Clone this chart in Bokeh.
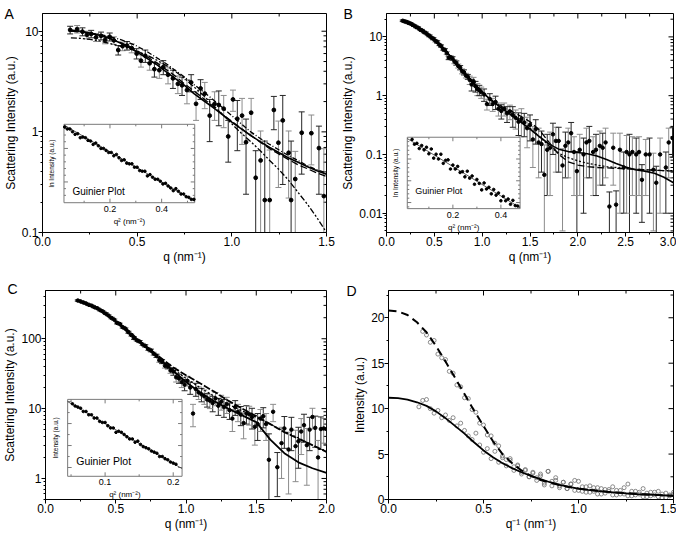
import math
import numpy as np
from bokeh.plotting import figure
from bokeh.layouts import column, row
from bokeh.models import (Range1d, LinearScale, LinearAxis, LogAxis, FixedTicker,
                          Title, NumeralTickFormatter, CustomJSTickFormatter)
from bokeh.core.properties import value
from bokeh.embed import file_html
from bokeh.resources import INLINE

FONT = "Liberation Sans"

# ---------------- Panel A data ----------------
A_POINTS = [  # (q, intensity, error)
    (0.146, 10.3, 0.9), (0.183, 10.5, 0.9), (0.211, 9.9, 0.9), (0.235, 9.2, 0.8),
    (0.257, 9.4, 0.8), (0.283, 8.7, 0.8), (0.309, 9.0, 0.8), (0.331, 8.2, 0.7),
    (0.355, 8.8, 0.8), (0.377, 8.1, 0.7), (0.400, 6.5, 0.7), (0.423, 7.1, 0.7),
    (0.446, 7.2, 0.7), (0.471, 6.8, 0.7), (0.497, 6.0, 0.7), (0.520, 5.1, 0.7),
    (0.543, 5.7, 0.8), (0.566, 4.8, 0.7), (0.591, 4.2, 0.7), (0.617, 4.1, 0.7),
    (0.638, 4.4, 0.7), (0.663, 3.7, 0.7), (0.689, 3.4, 0.7), (0.715, 3.0, 0.6),
    (0.737, 2.9, 0.6), (0.763, 2.6, 0.7), (0.785, 3.1, 0.6), (0.811, 1.9, 0.6),
    (0.835, 2.7, 0.6), (0.857, 2.4, 0.7), (0.883, 1.45, 0.65), (0.909, 1.9, 0.6),
    (0.931, 1.85, 0.7), (0.957, 1.7, 0.6), (0.981, 0.9, 0.4), (1.006, 2.1, 0.5),
    (1.029, 1.35, 0.7), (1.054, 1.45, 0.7), (1.075, 0.79, 0.55), (1.102, 1.55, 0.6),
    (1.126, 0.35, 0.3), (1.152, 0.52, 0.5), (1.174, 0.21, 0.6), (1.200, 0.21, 0.45),
    (1.222, 1.65, 0.6), (1.246, 0.78, 0.5), (1.269, 1.3, 1.0), (1.300, 0.62, 0.4),
    (1.313, 0.21, 0.6), (1.335, 0.34, 0.3), (1.369, 0.98, 0.6), (1.420, 0.97, 0.5),
    (1.460, 0.69, 0.45), (1.486, 0.23, 0.45),
]
A_CURVE_Q = [0.15, 0.2, 0.25, 0.3, 0.35, 0.4, 0.45, 0.5, 0.55, 0.6, 0.65, 0.7, 0.75,
             0.8, 0.85, 0.9, 0.95, 1.0, 1.05, 1.1, 1.15, 1.2, 1.25, 1.3, 1.35, 1.4,
             1.45, 1.5]
A_SOLID = [10.3, 10.0, 9.6, 9.1, 8.5, 7.8, 7.0, 6.2, 5.4, 4.7, 4.0, 3.4, 2.9, 2.4,
           2.05, 1.75, 1.48, 1.25, 1.07, 0.92, 0.8, 0.7, 0.62, 0.55, 0.5, 0.45, 0.41, 0.38]
A_DASHED = [10.0, 9.8, 9.5, 9.1, 8.6, 7.9, 7.2, 6.4, 5.6, 4.9, 4.2, 3.6, 3.0, 2.55,
            2.15, 1.8, 1.5, 1.27, 1.08, 0.92, 0.79, 0.68, 0.6, 0.53, 0.47, 0.43, 0.39, 0.36]
A_DASHDOT = [8.6, 8.5, 8.3, 8.0, 7.6, 7.2, 6.8, 6.3, 5.8, 5.2, 4.6, 4.0, 3.4, 2.8,
             2.3, 1.85, 1.5, 1.2, 0.97, 0.8, 0.65, 0.52, 0.42, 0.33, 0.25, 0.19, 0.14, 0.1]
A_DOTDASH = [10.1, 9.9, 9.6, 9.3, 8.9, 8.4, 7.8, 7.1, 6.3, 5.5, 4.8, 4.1, 3.5, 2.95,
             2.5, 2.1, 1.75, 1.45, 1.2, 1.0, 0.86, 0.75, 0.66, 0.58, 0.52, 0.46, 0.42, 0.39]
A_GUINIER = [  # (q^2, ln I)
    (0.025, 2.32), (0.035, 2.29), (0.045, 2.29), (0.055, 2.25), (0.065, 2.21),
    (0.075, 2.22), (0.085, 2.16), (0.095, 2.17), (0.105, 2.16), (0.115, 2.12),
    (0.125, 2.11), (0.135, 2.06), (0.145, 2.08), (0.155, 2.04), (0.165, 2.00),
    (0.175, 2.00), (0.185, 1.97), (0.195, 1.94), (0.205, 1.94), (0.215, 1.89),
    (0.225, 1.91), (0.235, 1.86), (0.245, 1.82), (0.255, 1.83), (0.265, 1.78),
    (0.275, 1.77), (0.285, 1.77), (0.295, 1.72), (0.305, 1.72), (0.315, 1.67),
    (0.325, 1.66), (0.335, 1.66), (0.345, 1.59), (0.355, 1.61), (0.365, 1.57),
    (0.375, 1.54), (0.385, 1.54), (0.395, 1.51), (0.405, 1.47), (0.415, 1.48),
    (0.425, 1.44), (0.435, 1.41), (0.445, 1.37), (0.455, 1.40), (0.465, 1.36),
    (0.475, 1.32), (0.485, 1.32), (0.495, 1.28), (0.505, 1.27), (0.515, 1.24),
    (0.525, 1.24),
]
A_GFIT_Q2 = [0.022, 0.528]
A_GFIT_LN = [2.35, 1.21]

# ---------------- Panel B data ----------------
B_POINTS = [
    (0.17, 18.8, 0.6), (0.19, 18.3, 0.6), (0.21, 18.0, 0.6), (0.23, 17.3, 0.6),
    (0.25, 16.9, 0.6), (0.27, 16.1, 0.5), (0.29, 15.5, 0.5), (0.31, 14.7, 0.5),
    (0.33, 14.3, 0.5), (0.35, 13.4, 0.5), (0.37, 12.9, 0.5), (0.39, 12.1, 0.4),
    (0.41, 11.7, 0.4), (0.43, 10.9, 0.4), (0.45, 10.4, 0.4), (0.47, 9.7, 0.4),
    (0.49, 9.3, 0.4), (0.51, 8.6, 0.4), (0.53, 8.2, 0.4), (0.55, 7.4, 0.3),
    (0.57, 7.0, 0.3), (0.59, 6.2, 0.3), (0.61, 6.0, 0.3), (0.63, 5.3, 0.3),
    (0.65, 4.4, 0.3), (0.67, 4.5, 0.3), (0.69, 4.3, 0.3), (0.71, 3.8, 0.3),
    (0.73, 3.6, 0.3), (0.75, 3.2, 0.25), (0.77, 3.0, 0.25), (0.79, 2.6, 0.25),
    (0.81, 2.5, 0.25), (0.83, 2.2, 0.2), (0.85, 2.1, 0.2), (0.87, 1.85, 0.3),
    (0.89, 1.55, 0.35), (0.91, 1.75, 0.3), (0.93, 1.45, 0.3), (0.95, 1.3, 0.3),
    (0.97, 1.25, 0.25), (0.99, 1.15, 0.25), (1.02, 1.05, 0.25), (1.05, 0.72, 0.15),
    (1.08, 0.88, 0.2), (1.11, 0.72, 0.18), (1.14, 0.78, 0.2), (1.17, 0.6, 0.15),
    (1.20, 0.55, 0.15), (1.23, 0.6, 0.15), (1.26, 0.5, 0.15), (1.29, 0.54, 0.15),
    (1.32, 0.47, 0.18), (1.35, 0.42, 0.15), (1.38, 0.36, 0.15), (1.41, 0.4, 0.2),
    (1.44, 0.35, 0.15), (1.47, 0.28, 0.15), (1.50, 0.32, 0.15), (1.53, 0.18, 0.12),
    (1.56, 0.27, 0.12), (1.59, 0.16, 0.12), (1.62, 0.15, 0.1), (1.65, 0.045, 0.1),
    (1.68, 0.12, 0.1), (1.71, 0.13, 0.11), (1.74, 0.22, 0.12), (1.77, 0.17, 0.12),
    (1.80, 0.17, 0.12), (1.84, 0.065, 0.06), (1.87, 0.14, 0.1), (1.90, 0.16, 0.12),
    (1.93, 0.23, 0.12), (1.96, 0.11, 0.09), (1.99, 0.052, 0.06), (2.02, 0.12, 0.1),
    (2.06, 0.10, 0.09), (2.09, 0.16, 0.12), (2.12, 0.17, 0.13), (2.16, 0.11, 0.09),
    (2.19, 0.12, 0.1), (2.23, 0.14, 0.11), (2.26, 0.13, 0.1), (2.29, 0.16, 0.12),
    (2.33, 0.013, 0.01), (2.37, 0.13, 0.1), (2.40, 0.014, 0.01), (2.44, 0.12, 0.11),
    (2.48, 0.06, 0.05), (2.51, 0.11, 0.1), (2.54, 0.10, 0.12), (2.57, 0.11, 0.09),
    (2.61, 0.10, 0.09), (2.64, 0.11, 0.09), (2.67, 0.037, 0.03), (2.71, 0.10, 0.08),
    (2.75, 0.10, 0.09), (2.79, 0.055, 0.05), (2.82, 0.033, 0.03), (2.86, 0.10, 0.09),
    (2.92, 0.06, 0.05), (2.95, 0.16, 0.12), (2.99, 0.19, 0.1),
]
B_CURVE_Q = [0.17, 0.2, 0.3, 0.4, 0.5, 0.6, 0.7, 0.8, 0.9, 1.0, 1.1, 1.2, 1.3, 1.4, 1.5,
             1.6, 1.7, 1.8, 1.9, 2.0, 2.1, 2.2, 2.3, 2.4, 2.5, 2.6, 2.7, 2.8, 2.9, 3.0]
B_SOLID = [18.8, 18.2, 15.0, 12.0, 9.0, 6.2, 4.1, 2.6, 1.7, 1.15, 0.82, 0.62, 0.47, 0.36,
           0.27, 0.2, 0.15, 0.123, 0.112, 0.108, 0.103, 0.094, 0.082, 0.07, 0.061, 0.055,
           0.052, 0.048, 0.041, 0.033]
B_DASHED = [18.8, 18.2, 15.0, 12.0, 9.0, 6.2, 4.1, 2.6, 1.7, 1.15, 0.83, 0.66, 0.55, 0.45,
            0.36, 0.26, 0.16, 0.1, 0.075, 0.066, 0.062, 0.06, 0.059, 0.058, 0.057, 0.056,
            0.055, 0.054, 0.053, 0.052]
B_DOTTED = [18.8, 18.2, 15.0, 12.0, 9.0, 6.2, 4.1, 2.6, 1.7, 1.15, 0.82, 0.64, 0.5, 0.38,
            0.28, 0.2, 0.14, 0.105, 0.088, 0.078, 0.071, 0.066, 0.062, 0.06, 0.058, 0.056,
            0.055, 0.054, 0.053, 0.053]
B_GUINIER = [
    (0.03, 2.95), (0.04, 2.84), (0.05, 2.86), (0.06, 2.74), (0.07, 2.81), (0.08, 2.71),
    (0.09, 2.77), (0.10, 2.62), (0.11, 2.73), (0.12, 2.52), (0.13, 2.61), (0.14, 2.50),
    (0.15, 2.61), (0.16, 2.40), (0.17, 2.47), (0.18, 2.48), (0.19, 2.27), (0.20, 2.36),
    (0.21, 2.27), (0.22, 2.33), (0.23, 2.19), (0.24, 2.21), (0.25, 2.09), (0.26, 2.22),
    (0.27, 2.06), (0.28, 2.11), (0.29, 1.92), (0.30, 2.03), (0.31, 1.94), (0.32, 1.79),
    (0.33, 1.95), (0.34, 1.81), (0.35, 1.85), (0.36, 1.70), (0.37, 1.80), (0.38, 1.67),
    (0.39, 1.72), (0.40, 1.54), (0.41, 1.64), (0.42, 1.54), (0.43, 1.58), (0.44, 1.46),
    (0.45, 1.55), (0.46, 1.43), (0.47, 1.42),
]
B_GFIT_Q2 = [0.01, 0.48]
B_GFIT_LN = [2.97, 1.38]

# ---------------- Panel C data ----------------
C_POINTS = [
    (0.23, 352, 8), (0.25, 342, 8), (0.27, 330, 8), (0.29, 318, 8), (0.31, 305, 7),
    (0.33, 296, 7), (0.35, 282, 7), (0.37, 272, 7), (0.39, 256, 6), (0.41, 244, 6),
    (0.43, 228, 6), (0.45, 214, 6), (0.47, 198, 5), (0.49, 187, 5), (0.51, 168, 5),
    (0.53, 162, 5), (0.55, 146, 4), (0.57, 139, 4), (0.59, 124, 4), (0.61, 113, 4),
    (0.63, 102, 4), (0.65, 95, 3), (0.67, 91, 3), (0.69, 83, 3), (0.71, 79, 3),
    (0.73, 71, 3), (0.75, 68, 3), (0.77, 61, 3), (0.79, 57, 3), (0.81, 49, 3),
    (0.83, 47, 3), (0.85, 41, 3), (0.87, 40, 3), (0.89, 35, 3), (0.91, 34, 4),
    (0.93, 28, 4), (0.95, 27, 4), (0.97, 24, 4), (0.99, 22, 4), (1.01, 25, 4),
    (1.03, 20, 4), (1.05, 8.5, 3), (1.07, 19, 4), (1.09, 17, 3.5), (1.11, 16, 3.5),
    (1.13, 15, 3.5), (1.15, 13.5, 3), (1.17, 13, 3), (1.19, 12, 3), (1.21, 14, 3),
    (1.23, 11, 3), (1.25, 12.5, 3), (1.27, 10.5, 3), (1.29, 11.5, 3), (1.31, 9.5, 2.5),
    (1.33, 7.2, 2.5), (1.35, 10.5, 2.5), (1.37, 9.0, 2.5), (1.39, 8.2, 2.5),
    (1.41, 6.2, 2.5), (1.43, 8.5, 2.5), (1.45, 8.3, 2.5), (1.47, 7.6, 2.5),
    (1.49, 5.5, 2.5), (1.51, 6.0, 2.5), (1.53, 7.2, 2.5), (1.55, 7.8, 2.5),
    (1.57, 6.0, 2.5), (1.59, 1.85, 2.5), (1.62, 9.0, 2.5), (1.65, 1.45, 0.9),
    (1.68, 3.2, 2.2), (1.70, 5.2, 2.5), (1.73, 2.6, 2.0), (1.75, 5.0, 2.5),
    (1.78, 2.9, 2.0), (1.80, 3.4, 2.0), (1.82, 4.7, 2.5), (1.84, 5.8, 2.5),
    (1.86, 3.0, 2.2), (1.88, 5.0, 2.5), (1.90, 7.6, 2.5), (1.92, 5.3, 2.5),
    (1.94, 2.0, 1.5), (1.96, 5.1, 2.5), (1.98, 5.2, 2.0), (2.00, 5.1, 2.0),
]
C_CURVE_Q = [0.23, 0.3, 0.4, 0.5, 0.6, 0.7, 0.8, 0.9, 1.0, 1.1, 1.2, 1.3, 1.4, 1.5,
             1.6, 1.7, 1.8, 1.9, 2.0]
C_SOLID = [352, 310, 248, 178, 118, 80, 54, 36, 24, 17, 12.8, 10.0, 8.0, 6.4, 3.6,
           2.3, 1.7, 1.4, 1.2]
C_DASHED = [352, 312, 252, 182, 125, 82, 57, 40, 30, 23, 17.5, 13, 10, 7.8, 6.0,
            4.6, 3.7, 3.0, 2.4]
C_DOTTED = [352, 311, 250, 180, 121, 79, 55, 38, 27, 20, 15, 11.5, 9.3, 7.5, 6.0,
            4.7, 3.8, 3.0, 2.4]
C_GUINIER = [
    (0.052, 5.88), (0.056, 5.86), (0.060, 5.85), (0.064, 5.84), (0.068, 5.81),
    (0.072, 5.81), (0.076, 5.78), (0.080, 5.78), (0.084, 5.75), (0.088, 5.75),
    (0.092, 5.72), (0.096, 5.71), (0.100, 5.71), (0.104, 5.68), (0.108, 5.66),
    (0.112, 5.66), (0.116, 5.62), (0.120, 5.63), (0.124, 5.62), (0.128, 5.60),
    (0.132, 5.58), (0.136, 5.56), (0.140, 5.56), (0.144, 5.53), (0.148, 5.54),
    (0.152, 5.51), (0.156, 5.49), (0.160, 5.48), (0.164, 5.47), (0.168, 5.45),
    (0.172, 5.44), (0.176, 5.43), (0.180, 5.40), (0.184, 5.40), (0.188, 5.38),
    (0.192, 5.37), (0.196, 5.35), (0.200, 5.34), (0.204, 5.33),
]
C_GFIT_Q2 = [0.045, 0.213]
C_GFIT_LN = [5.90, 5.29]

# ---------------- Panel D data ----------------
D_CURVE_Q = [0.0, 0.05, 0.1, 0.15, 0.2, 0.25, 0.3, 0.35, 0.4, 0.45, 0.5, 0.55, 0.6, 0.65,
             0.7, 0.75, 0.8, 0.85, 0.9, 0.95, 1.0, 1.05, 1.1, 1.15, 1.2, 1.25, 1.3, 1.35,
             1.4, 1.45, 1.5]
D_DASHED = [20.8, 20.7, 20.3, 19.5, 18.4, 16.9, 15.2, 13.4, 11.6, 9.8, 8.1, 6.4, 5.0,
            4.0, 3.2, 2.6, 2.15, 1.85, 1.6, 1.38, 1.2, 1.06, 0.95, 0.86, 0.78, 0.7, 0.63,
            0.57, 0.51, 0.46, 0.42]
D_SOLID = [11.2, 11.15, 11.0, 10.7, 10.3, 9.7, 8.95, 8.1, 7.25, 6.3, 5.4, 4.65, 4.0,
           3.45, 3.0, 2.6, 2.25, 1.9, 1.6, 1.38, 1.2, 1.06, 0.95, 0.85, 0.76, 0.68, 0.6,
           0.55, 0.5, 0.45, 0.4]
D_UPPER = [
    (0.18, 18.5), (0.20, 18.1), (0.22, 17.3), (0.24, 17.5), (0.26, 16.0), (0.28, 15.6),
    (0.30, 15.4), (0.32, 14.1), (0.34, 13.9), (0.36, 12.6), (0.38, 12.4), (0.40, 11.2),
    (0.42, 11.1), (0.44, 9.9), (0.46, 9.6), (0.48, 8.4), (0.50, 8.2), (0.52, 7.1),
    (0.54, 7.0), (0.56, 6.2), (0.58, 5.9), (0.60, 4.8), (0.62, 4.4), (0.64, 4.5),
    (0.66, 3.6), (0.68, 3.8), (0.70, 3.0), (0.72, 3.2), (0.74, 2.5), (0.76, 2.9),
    (0.78, 2.1), (0.80, 2.6), (0.82, 1.8), (0.84, 3.1), (0.86, 1.5), (0.88, 2.1),
    (0.90, 1.3), (0.92, 1.9), (0.94, 1.2), (0.96, 1.7), (0.98, 1.0), (1.00, 2.0),
    (1.02, 0.9), (1.04, 1.4), (1.06, 0.8), (1.08, 1.3), (1.10, 0.6), (1.12, 1.2),
    (1.14, 0.7), (1.16, 1.1), (1.18, 0.5), (1.20, 1.0), (1.22, 0.6), (1.24, 1.3),
    (1.26, 0.4), (1.28, 0.9), (1.30, 0.5), (1.32, 0.8), (1.34, 0.3), (1.36, 0.7),
    (1.38, 0.4), (1.40, 0.8), (1.42, 0.3), (1.44, 0.6), (1.46, 0.2), (1.48, 0.5),
    (1.50, 0.6),
]
D_LOWER = [
    (0.16, 10.2), (0.18, 10.9), (0.20, 11.0), (0.22, 10.0), (0.24, 9.5), (0.26, 9.8),
    (0.28, 9.0), (0.30, 9.3), (0.32, 8.7), (0.34, 9.0), (0.36, 8.1), (0.38, 8.4),
    (0.40, 7.6), (0.42, 7.0), (0.44, 6.6), (0.46, 7.3), (0.48, 6.0), (0.50, 5.2),
    (0.52, 5.6), (0.54, 4.5), (0.56, 5.3), (0.58, 4.1), (0.60, 4.6), (0.62, 3.7),
    (0.64, 4.3), (0.66, 3.2), (0.68, 3.7), (0.70, 2.8), (0.72, 3.3), (0.74, 2.5),
    (0.76, 3.0), (0.78, 2.4), (0.80, 2.8), (0.82, 1.6), (0.84, 3.1), (0.86, 2.0),
    (0.88, 2.4), (0.90, 1.5), (0.92, 1.9), (0.94, 1.2), (0.96, 1.7), (0.98, 2.1),
    (1.00, 1.0), (1.02, 1.4), (1.04, 0.8), (1.06, 1.5), (1.08, 0.9), (1.10, 1.3),
    (1.12, 0.6), (1.14, 1.1), (1.16, 0.9), (1.18, 1.4), (1.20, 0.5), (1.22, 1.0),
    (1.24, 0.6), (1.26, 1.7), (1.28, 0.4), (1.30, 0.9), (1.32, 0.6), (1.34, 1.2),
    (1.36, 0.3), (1.38, 0.8), (1.40, 0.5), (1.42, 0.9), (1.44, 0.2), (1.46, 0.7),
    (1.48, 0.4), (1.50, 0.8),
]

# ---------------- helpers ----------------
def log_minor(decades):
    return [m * d for d in decades for m in range(2, 10)]


AXIS_KW = dict(axis_line_color="black", axis_line_width=1,
               major_tick_line_color="black", minor_tick_line_color="black",
               major_tick_out=4, major_tick_in=0, minor_tick_out=2, minor_tick_in=0,
               major_label_standoff=0, axis_label_standoff=1,
               major_label_text_font=FONT, major_label_text_font_size="12px",
               major_label_text_color="black",
               axis_label_text_font=FONT, axis_label_text_font_size="12px",
               axis_label_text_font_style="normal", axis_label_text_color="black")


def add_letter(p, letter, offset, standoff):
    style = dict(text=letter, align="left", offset=offset, text_font=FONT,
                 text_font_size="14px", text_font_style="normal", text_color="black")
    try:
        t = Title(standoff=standoff, **style)
    except Exception:
        t = Title(standoff=0, **style)
    p.add_layout(t, "above")


def make_panel(xlim, ylim, log, xticks, xminor, yticks, yminor, xlabel, ylabel,
               w, h, bl, br, bt, yfmt):
    p = figure(width=w, height=h, x_range=Range1d(*xlim), y_range=Range1d(*ylim),
               y_axis_type="log" if log else "linear",
               x_axis_location=None, y_axis_location=None,
               output_backend="svg", toolbar_location=None,
               min_border_left=bl, min_border_right=br, min_border_top=bt,
               min_border_bottom=0)
    p.grid.visible = False
    p.outline_line_color = "black"
    p.outline_line_width = 1
    YAxis = LogAxis if log else LinearAxis
    xminor = [t for t in xminor if xlim[0] <= t <= xlim[1]]
    yminor = [t for t in yminor if ylim[0] <= t <= ylim[1]]
    p.add_layout(LinearAxis(ticker=FixedTicker(ticks=xticks, minor_ticks=xminor),
                            formatter=NumeralTickFormatter(format="0.0"),
                            axis_label=xlabel, **AXIS_KW), "below")
    p.add_layout(YAxis(ticker=FixedTicker(ticks=yticks, minor_ticks=yminor),
                       formatter=yfmt, axis_label=ylabel, **AXIS_KW), "left")
    # mirrored inward ticks on the top and right edges of the frame
    for tk, ln in ((xticks, 5), (xminor, 3)):
        p.ray(x=tk, y=[ylim[1]] * len(tk), length=ln, length_units="screen",
              angle=-math.pi / 2, line_color="black", line_width=1)
    for tk, ln in ((yticks, 5), (yminor, 3)):
        p.ray(x=[xlim[1]] * len(tk), y=tk, length=ln, length_units="screen",
              angle=math.pi, line_color="black", line_width=1)
    return p


def add_errbars(p, pts, ymin, size):
    q = np.array([t[0] for t in pts])
    y = np.array([t[1] for t in pts])
    e = np.array([t[2] for t in pts])
    lo = np.where(y - e > 0, y - e, ymin)
    hi = y + e
    cols = ["#8c8c8c" if i % 2 else "#262626" for i in range(len(q))]
    p.segment(x0=q, y0=lo, x1=q, y1=hi, line_color=cols, line_width=1)
    p.scatter(x=q, y=hi, marker="dash", size=6, line_color=cols, line_width=1)
    p.scatter(x=q, y=lo, marker="dash", size=6, line_color=cols, line_width=1)
    p.scatter(x=q, y=y, size=size, color="black")


def add_inset(p, name, xlim, ylim, frac, pts, fitx, fity, xticks, xlabels, xminor,
              yticks, yminor, ylabel, gfrac, gsize):
    fl, fr, ft, fb = frac
    xspan = (xlim[1] - xlim[0]) / (fr - fl)
    xs = xlim[0] - fl * xspan
    yspan = (ylim[1] - ylim[0]) / (fb - ft)
    ys = ylim[0] - (1 - fb) * yspan
    p.extra_x_ranges = {name: Range1d(xs, xs + xspan)}
    p.extra_y_ranges = {name: Range1d(ys, ys + yspan)}
    p.extra_x_scales = {name: LinearScale()}
    p.extra_y_scales = {name: LinearScale()}
    kw = dict(x_range_name=name, y_range_name=name)
    gray = "#7a7a7a"
    p.quad(left=xlim[0], right=xlim[1], bottom=ylim[0], top=ylim[1],
           fill_color="white", line_color=gray, line_width=1, **kw)
    xminor = [t for t in xminor if xlim[0] < t < xlim[1]]
    yminor = [t for t in yminor if ylim[0] < t < ylim[1]]
    for tk, ln in ((xticks, 4), (xminor, 2)):
        p.ray(x=tk, y=[ylim[0]] * len(tk), length=ln, length_units="screen",
              angle=math.pi / 2, line_color=gray, line_width=1, **kw)
        p.ray(x=tk, y=[ylim[1]] * len(tk), length=ln, length_units="screen",
              angle=-math.pi / 2, line_color=gray, line_width=1, **kw)
    for tk, ln in ((yticks, 4), (yminor, 2)):
        p.ray(x=[xlim[0]] * len(tk), y=tk, length=ln, length_units="screen",
              angle=0, line_color=gray, line_width=1, **kw)
        p.ray(x=[xlim[1]] * len(tk), y=tk, length=ln, length_units="screen",
              angle=math.pi, line_color=gray, line_width=1, **kw)
    p.line(fitx, fity, line_color="#333333", line_width=0.8, **kw)
    p.scatter(x=[t[0] for t in pts], y=[t[1] for t in pts], size=2.6,
              color="black", **kw)
    p.text(x=xticks, y=[ylim[0]] * len(xticks), text=xlabels, text_align="center",
           text_baseline="top", y_offset=3, text_font=value(FONT),
           text_font_size="9px", text_color="black", **kw)
    p.text(x=[(xlim[0] + xlim[1]) / 2], y=[ylim[0]], text=["q\u00b2 (nm\u207b\u00b2)"],
           text_align="center", text_baseline="top", y_offset=14,
           text_font=value(FONT), text_font_size="8px", text_color="black", **kw)
    p.text(x=[xlim[0]], y=[(ylim[0] + ylim[1]) / 2], text=[ylabel], angle=math.pi / 2,
           text_align="center", text_baseline="middle", x_offset=-12,
           text_font=value(FONT), text_font_size="6.5px", text_color="black", **kw)
    p.text(x=[xlim[0] + gfrac[0] * (xlim[1] - xlim[0])],
           y=[ylim[0] + gfrac[1] * (ylim[1] - ylim[0])], text=["Guinier Plot"],
           text_align="left", text_baseline="bottom", text_font=value(FONT),
           text_font_size=gsize, text_color="black", **kw)


num_fmt = CustomJSTickFormatter(code="return tick.toString();")
QLAB = "q (nm\u207b\u00b9)"
SLAB = "Scattering Intensity (a.u.)"

# ---------------- Panel A ----------------
pa = make_panel((0, 1.5), (0.1, 15), True, [0, 0.5, 1.0, 1.5], [0.25, 0.75, 1.25],
                [0.1, 1, 10], log_minor([0.1, 1, 10]), QLAB, SLAB,
                338, 266, 42, 12, 13, num_fmt)
add_errbars(pa, A_POINTS, 1e-4, 3.8)
pa.line(A_CURVE_Q, A_DASHDOT, line_color="black", line_width=1.3, line_dash="6 2 2 2 2 2")
pa.line(A_CURVE_Q, A_DOTDASH, line_color="black", line_width=1.3, line_dash="5 2 1 2")
pa.line(A_CURVE_Q, A_DASHED, line_color="black", line_width=1.3, line_dash="7 3")
pa.line(A_CURVE_Q, A_SOLID, line_color="black", line_width=1.6)
add_inset(pa, "ins", (0.022, 0.528), (1.19, 2.36), (0.0756, 0.536, 0.506, 0.864),
          A_GUINIER, A_GFIT_Q2, A_GFIT_LN, [0.2, 0.4], ["0.2", "0.4"], [0.1, 0.3, 0.5],
          [1.5, 2.0], [1.3, 1.4, 1.6, 1.7, 1.8, 1.9, 2.1, 2.2, 2.3],
          "ln Intensity (a.u.)", (0.065, 0.07), "10px")
add_letter(pa, "A", -38, -16)

# ---------------- Panel B ----------------
pb = make_panel((0, 3.0), (0.0047, 25), True, [0, 0.5, 1.0, 1.5, 2.0, 2.5, 3.0],
                [0.25, 0.75, 1.25, 1.75, 2.25, 2.75],
                [0.01, 0.1, 1, 10], log_minor([0.001, 0.01, 0.1, 1, 10]), QLAB, SLAB,
                338, 266, 48, 3, 13, num_fmt)
add_errbars(pb, B_POINTS, 1e-5, 3.5)
pb.line(B_CURVE_Q, B_DOTTED, line_color="black", line_width=1.3, line_dash="2 2")
pb.line(B_CURVE_Q, B_DASHED, line_color="black", line_width=1.3, line_dash="7 3")
pb.line(B_CURVE_Q, B_SOLID, line_color="black", line_width=1.6)
add_inset(pb, "ins", (0.01, 0.48), (1.36, 3.0), (0.0724, 0.4655, 0.565, 0.891),
          B_GUINIER, B_GFIT_Q2, B_GFIT_LN, [0.2, 0.4], ["0.2", "0.4"], [0.1, 0.3],
          [1.5, 2.0, 2.5], [1.4, 1.6, 1.7, 1.8, 1.9, 2.1, 2.2, 2.3, 2.4, 2.6, 2.7, 2.8, 2.9],
          "ln Intensity (a.u.)", (0.07, 0.18), "9px")
add_letter(pb, "B", -43, -16)

# ---------------- Panel C ----------------
pc = make_panel((0, 2.0), (0.5, 490), True, [0, 0.5, 1.0, 1.5, 2.0],
                [0.25, 0.75, 1.25, 1.75],
                [1, 10, 100], log_minor([0.1, 1, 10, 100]), QLAB, SLAB,
                338, 267, 42, 12, 22, num_fmt)
add_errbars(pc, C_POINTS, 1e-3, 3.5)
pc.line(C_CURVE_Q, C_DOTTED, line_color="black", line_width=1.3, line_dash="2 2")
pc.line(C_CURVE_Q, C_DASHED, line_color="black", line_width=1.8, line_dash="7 2")
pc.line(C_CURVE_Q, C_SOLID, line_color="black", line_width=1.8)
add_inset(pc, "ins", (0.045, 0.213), (5.22, 5.92), (0.0788, 0.486, 0.521, 0.889),
          C_GUINIER, C_GFIT_Q2, C_GFIT_LN, [0.1, 0.2], ["0.1", "0.2"], [0.05, 0.15],
          [5.3, 5.5, 5.7, 5.9], [5.4, 5.6, 5.8],
          "Intensity (a.u.)", (0.075, 0.12), "10.5px")
add_letter(pc, "C", -38, -13)

# ---------------- Panel D ----------------
pd_ = make_panel((0, 1.5), (0, 23), False, [0, 0.5, 1.0, 1.5], [0.25, 0.75, 1.25],
                 [0, 5, 10, 15, 20], [2.5, 7.5, 12.5, 17.5, 22.5],
                 "q\u207b\u00b9 (nm\u207b\u00b9)", "Intensity (a.u.)",
                 338, 267, 50, 3, 24, num_fmt)
pd_.scatter(x=[t[0] for t in D_UPPER], y=[t[1] for t in D_UPPER], marker="circle",
            size=4, fill_color=None, line_color="#6e6e6e", line_width=0.8)
pd_.scatter(x=[t[0] for t in D_LOWER], y=[t[1] for t in D_LOWER], marker="circle",
            size=4, fill_color=None, line_color="#6e6e6e", line_width=0.8)
pd_.line(D_CURVE_Q, D_DASHED, line_color="black", line_width=2, line_dash="8 5")
pd_.line(D_CURVE_Q, D_SOLID, line_color="black", line_width=1.8)
add_letter(pd_, "D", -42, -16)

layout = column(row(pa, pb), row(pc, pd_))
open("out.html", "w").write(file_html(layout, INLINE))
